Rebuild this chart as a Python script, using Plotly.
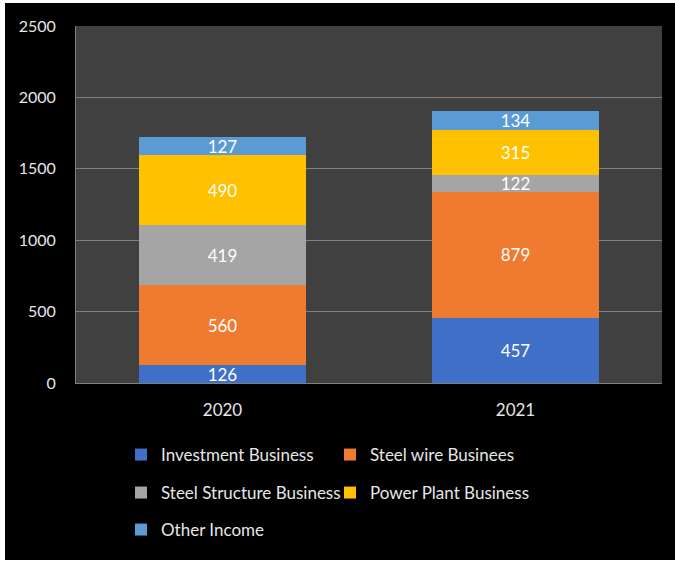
import plotly.graph_objects as go

categories = ["2020", "2021"]
investment = [126, 457]
steel_wire = [560, 879]
steel_structure = [419, 122]
power_plant = [490, 315]
other_income = [127, 134]

series = [
    ("Investment Business", investment, "#3F6FC6", "legend"),
    ("Steel wire Businees", steel_wire, "#EE7B30", "legend"),
    ("Steel Structure Business", steel_structure, "#A5A5A5", "legend2"),
    ("Power Plant Business", power_plant, "#FFC000", "legend2"),
    ("Other Income", other_income, "#5B9BD5", "legend3"),
]

FONT = "Lato"
W, H = 675, 563
L, R, T, B = 76, 13, 26, 180
pw, ph = W - L - R, H - T - B

fig = go.Figure()
for name, vals, color, lg in series:
    fig.add_trace(go.Bar(
        x=categories, y=vals, name=name, legend=lg,
        marker=dict(color=color, line=dict(width=0)),
        text=vals, texttemplate="%{text}", textposition="inside",
        insidetextanchor="middle", constraintext="none",
        textfont=dict(family=FONT, size=17, color="#FFFFFF"),
        hoverinfo="skip",
    ))

def px_x(p):
    return (p - L) / pw

def px_y(p):
    return (H - B - p) / ph

legend_common = dict(
    orientation="h", traceorder="normal", xanchor="left", yanchor="middle",
    font=dict(family=FONT, size=17, color="#E6E6E6"),
    bgcolor="rgba(0,0,0,0)", entrywidth=164, entrywidthmode="pixels",
    itemwidth=30,
)

fig.update_layout(
    width=W, height=H,
    margin=dict(l=L, r=R, t=T, b=B, autoexpand=False),
    paper_bgcolor="#FFFFFF",
    plot_bgcolor="rgba(0,0,0,0)",
    barmode="stack",
    bargap=0.43,
    font=dict(family=FONT, color="#E6E6E6"),
    showlegend=True,
    legend=dict(x=px_x(121), y=px_y(455), **legend_common),
    legend2=dict(x=px_x(121), y=px_y(493), **legend_common),
    legend3=dict(x=px_x(121), y=px_y(530), **legend_common),
    xaxis=dict(
        showline=True, linecolor="#808080", linewidth=1, ticks="",
        tickfont=dict(family=FONT, size=17, color="#E6E6E6"),
        ticklabelstandoff=12,
        showgrid=False, fixedrange=True,
    ),
    yaxis=dict(
        range=[0, 2500], dtick=500, tick0=0,
        showline=True, linecolor="#808080", linewidth=1,
        showgrid=True, gridcolor="#808080", gridwidth=1,
        zeroline=False, ticks="", ticklabelstandoff=16,
        tickfont=dict(family=FONT, size=16, color="#E6E6E6"),
        fixedrange=True,
    ),
    shapes=[
        dict(type="rect", xref="paper", yref="paper", layer="below",
             x0=px_x(5), x1=px_x(W + 5), y0=px_y(H - 3), y1=px_y(3),
             fillcolor="#000000", line=dict(width=0)),
        dict(type="rect", xref="paper", yref="paper", layer="below",
             x0=0, x1=1, y0=0, y1=1,
             fillcolor="#404040", line=dict(width=0)),
    ],
)

fig.write_html("out.html")
